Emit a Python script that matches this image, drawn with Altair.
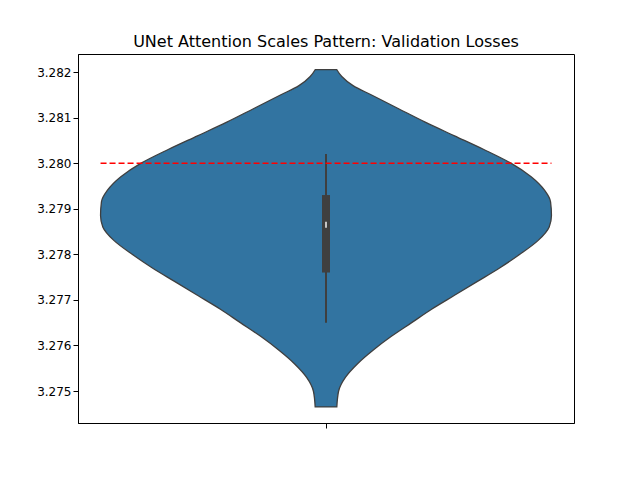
import altair as alt
import pandas as pd

# violin outline: loss value and half width
ys = [3.28205, 3.2819, 3.2817, 3.2815, 3.2812, 3.2809, 3.2806, 3.2803, 3.2800,
      3.2797, 3.2794, 3.27915, 3.27885, 3.2786, 3.2783, 3.2780, 3.2777, 3.2774,
      3.2771, 3.2768, 3.2765, 3.2762, 3.2759, 3.2756, 3.2753, 3.2750, 3.27465]
hws = [0.024, 0.035, 0.06, 0.1, 0.16, 0.22, 0.285, 0.35, 0.41,
       0.455, 0.485, 0.498, 0.5, 0.495, 0.47, 0.43, 0.385, 0.335,
       0.285, 0.235, 0.19, 0.145, 0.105, 0.07, 0.043, 0.028, 0.024]
q1, med, q3 = 3.2776, 3.27865, 3.2793
wlo, whi = 3.2765, 3.2802
ref = 3.280

violin = pd.DataFrame({"y": ys, "lo": [-h for h in hws], "hi": hws})
box = pd.DataFrame({"x": [0], "q1": [q1], "q3": [q3], "med": [med], "wlo": [wlo], "whi": [whi]})
line = pd.DataFrame({"x": [-0.5], "x2": [0.5], "y": [ref]})

xs = alt.Scale(domain=[-0.55, 0.55], nice=False, zero=False)
ysc = alt.Scale(domain=[3.274298, 3.282395], nice=False, zero=False)
xax = alt.Axis(values=[0], labels=False, title=None, grid=False, domainColor="black", tickColor="black")
yax = alt.Axis(values=[3.275, 3.276, 3.277, 3.278, 3.279, 3.280, 3.281, 3.282], format=".3f",
               title=None, grid=False, domainColor="black", tickColor="black",
               labelColor="black", labelFontSize=12)

area = alt.Chart(violin).mark_area(orient="horizontal", color="#3274a1", stroke="#3f3f3f",
                                   strokeWidth=1.3, interpolate="monotone").encode(
    y=alt.Y("y:Q", scale=ysc, axis=yax),
    x=alt.X("lo:Q", scale=xs, axis=xax),
    x2="hi:Q",
)
whisk = alt.Chart(box).mark_rule(color="#3f3f3f", strokeWidth=2).encode(
    x=alt.X("x:Q", scale=xs), y=alt.Y("wlo:Q", scale=ysc), y2="whi:Q")
body = alt.Chart(box).mark_rule(color="#3f3f3f", strokeWidth=8).encode(
    x=alt.X("x:Q", scale=xs), y=alt.Y("q1:Q", scale=ysc), y2="q3:Q")
median = alt.Chart(box).mark_tick(color="white", thickness=2, size=6).encode(
    x=alt.X("x:Q", scale=xs), y=alt.Y("med:Q", scale=ysc))
dash = alt.Chart(line).mark_rule(color="red", strokeWidth=1.5, strokeDash=[6, 3]).encode(
    x=alt.X("x:Q", scale=xs), x2="x2:Q", y=alt.Y("y:Q", scale=ysc))

chart = (area + whisk + body + median + dash).properties(
    width=496, height=369,
    padding={"left": 28, "top": 26, "right": 5, "bottom": 5},
    title=alt.TitleParams("UNet Attention Scales Pattern: Validation Losses",
                          fontSize=16, fontWeight="normal", font="DejaVu Sans", color="black"),
).configure_view(stroke="black", strokeWidth=1).configure_axis(labelFont="DejaVu Sans")

chart.save("out.html", embed_options={"renderer": "svg", "actions": False})
